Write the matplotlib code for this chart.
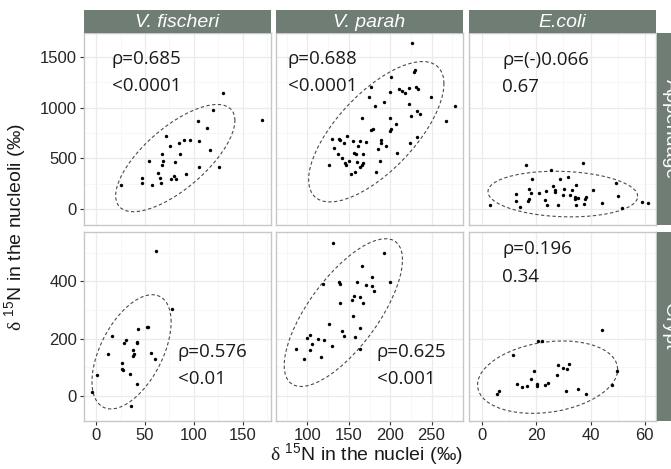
import numpy as np
import matplotlib
matplotlib.use("Agg")
import matplotlib.pyplot as plt

# facet labels
species = ["V. fischeri", "V. parah", "E.coli"]
sites = ["Appendage", "Crypt"]

# appendage
app_fis_x = [130.3, 170, 120, 104, 113, 71.4, 90.1, 95.9, 104.8, 85, 75.9, 116.3, 67.3, 86,
             53.7, 68.4, 80.3, 67, 104.8, 125.9, 63.3, 91.5, 46.9, 65, 80, 81.3, 76.5, 46.6,
             66, 57.1, 24.8]
app_fis_y = [1139, 881, 976, 864, 802, 717, 678, 681, 671, 652, 619, 583, 540, 540,
             478, 478, 468, 435, 419, 413, 360, 350, 311, 305, 327, 301, 301, 262,
             255, 236, 236]

app_par_x = [226.7, 229.9, 229.1, 201.4, 176.8, 211, 214.7, 217.9, 222.7, 231.1, 233.1, 199.8,
             174, 249.3, 192.9, 182.1, 222.3, 278.6, 232.4, 235.6, 224.7, 199.8, 165.6, 267.8,
             207.4, 179.3, 177.2, 200.6, 199.8, 232, 147.9, 138.6, 129.4, 139.8, 188.5, 189.3,
             155.5, 164, 171.2, 144.7, 223.9, 194.5, 132.2, 160.7, 185.7, 136.6, 156.7, 158.7,
             167.2, 207.8, 142.2, 150.3, 188.1, 145.1, 146.3, 159.5, 166, 167.6, 163.6, 126.6,
             182.9, 157.5, 152.7]
app_par_y = [1631, 1372, 1346, 1297, 1198, 1185, 1159, 1143, 1192, 1202, 1182, 1153,
             1103, 1100, 1054, 1018, 1035, 1015, 969, 936, 913, 897, 897, 868,
             842, 792, 783, 792, 773, 711, 720, 694, 691, 684, 684, 655,
             668, 671, 661, 652, 652, 619, 602, 625, 593, 544, 553, 540,
             544, 553, 508, 478, 472, 455, 435, 468, 435, 455, 416, 435,
             370, 370, 344]

app_eco_x = [37.2, 16, 25.5, 18.4, 28.8, 31.8, 49.5, 26.1, 34.5, 17.1, 23.5, 26.7, 30.2, 33,
             41, 12.3, 18.1, 20.9, 26.9, 29.7, 32.4, 34.4, 35.4, 38.2, 50.2, 17.4, 16.9, 23.3,
             12.6, 34.3, 38.1, 44.1, 13.8, 23.9, 28.1, 34.8, 37.5, 59, 61.4, 51.6, 3]
app_eco_y = [455, 432, 390, 298, 295, 318, 262, 226, 236, 203, 183, 193, 196, 193,
             187, 151, 160, 157, 170, 138, 138, 118, 108, 121, 134, 105, 79, 88,
             82, 105, 98, 62, 26, 39, 39, 46, 52, 72, 65, 13, 39]

# crypt
cry_fis_x = [60.9, 77.6, 53.1, 51.7, 43.2, 15.6, 30.3, 28.6, 41.5, 41.8, 37.8, 11.9, 56.5, 38.8,
             37.8, 59.9, 26.5, 26.5, 26.9, 34.4, 0.3, 41.8, -4.8, 35.7]
cry_fis_y = [505, 302, 242, 239, 232, 208, 196, 185, 189, 184, 160, 147, 149, 146,
             138, 127, 113, 95, 89, 76, 71, 40, 14, -37]

cry_par_x = [131.4, 192.9, 166, 178, 138.6, 139.8, 160, 119.3, 171.2, 178, 180.9, 199.4,
             155.9, 163.2, 153.5, 167.2, 139.4, 154.7, 125.7, 164, 141.4, 102.8, 144.3, 157.1,
             99.2, 112.9, 120.1, 105.6, 129.4, 86.7, 163.6, 103.6, 95.6, 116.1]
cry_par_y = [532, 498, 453, 415, 399, 392, 399, 389, 388, 384, 367, 396,
             347, 346, 336, 323, 323, 280, 249, 236, 225, 214, 208, 207,
             202, 199, 196, 182, 174, 164, 164, 159, 130, 137]

cry_eco_x = [44.1, 20.6, 22.1, 11.5, 31.9, 27.9, 29.9, 31.2, 19, 49.7, 27.5, 18, 20.2, 20.2,
             12.9, 14.5, 16.5, 23.2, 24.4, 47.8, 30.8, 35.4, 38.2, 6.2, 5.5]
cry_eco_y = [229, 193, 191, 143, 112, 106, 98, 92, 87, 87, 71, 58, 41, 33,
             41, 29, 34, 39, 44, 37, 16, 23, 5, 16, 7]

xs = [[app_fis_x, app_par_x, app_eco_x], [cry_fis_x, cry_par_x, cry_eco_x]]
ys = [[app_fis_y, app_par_y, app_eco_y], [cry_fis_y, cry_par_y, cry_eco_y]]

rho_text = [["ρ=0.685", "ρ=0.688", "ρ=(-)0.066"], ["ρ=0.576", "ρ=0.625", "ρ=0.196"]]
p_text = [["<0.0001", "<0.0001", "0.67"], ["<0.01", "<0.001", "0.34"]]

# scales (free per column / row)
col_xlim = [(-12.6, 179), (62, 288), (-4.9, 64.2)]
col_xticks = [[0, 50, 100, 150], [100, 150, 200, 250], [0, 20, 40, 60]]
col_xminor = [[25, 75, 125, 175], [75, 125, 175, 225, 275], [10, 30, 50]]
row_ylim = [(-154, 1732), (-88, 572)]
row_yticks = [[0, 500, 1000, 1500], [0, 200, 400]]
row_yminor = [[250, 750, 1250], [100, 300, 500]]

# where the labels sit in each panel (data units)
lab_x = [[16, 76, 7.4], [83.7, 183.7, 7.4]]
lab_y1 = [[1477, 1477, 1470], [154, 154, 513]]
lab_y2 = [[1215, 1215, 1202], [57, 57, 416]]


def cov_trob(x, y, nu=5, maxit=25, tol=0.01):
    # same as MASS::cov.trob, used by ggplot's stat_ellipse
    d = np.column_stack([x, y]).astype(float)
    n, p = d.shape
    loc = d.mean(axis=0)
    w = np.ones(n)
    for _ in range(maxit):
        w0 = w
        X = d - loc
        _, s, vt = np.linalg.svd(np.sqrt(w / w.sum())[:, None] * X, full_matrices=False)
        wX = X @ vt.T @ np.diag(1 / s)
        Q = (wX ** 2).sum(axis=1)
        w = (nu + p) / (nu + Q)
        loc = (w[:, None] * d).sum(axis=0) / w.sum()
        if np.all(np.abs(w - w0) < tol):
            break
    sX = np.sqrt(w)[:, None] * X
    return loc, sX.T @ sX / n


def ellipse(x, y, level=0.95, segments=51):
    loc, cov = cov_trob(x, y)
    dfd = len(x) - 1
    # sqrt(2 * qf(level, 2, dfd))
    radius = np.sqrt(dfd * ((1 - level) ** (-2 / dfd) - 1))
    R = np.linalg.cholesky(cov).T
    t = np.linspace(0, 2 * np.pi, segments + 1)
    circ = np.column_stack([np.cos(t), np.sin(t)])
    e = loc + radius * circ @ R
    return e[:, 0], e[:, 1]


plt.rcParams["font.family"] = ["Liberation Sans", "DejaVu Sans"]
plt.rcParams["mathtext.fontset"] = "custom"
plt.rcParams["mathtext.rm"] = "Liberation Serif"
plt.rcParams["mathtext.sf"] = "Liberation Sans"

W, H = 671, 469
fig = plt.figure(figsize=(W / 100, H / 100), dpi=100)

strip_col = "#6f7d74"
cols_px = [(84, 271), (276, 463), (469, 656)]
rows_px = [(33, 225), (232, 421)]


def box(x0, x1, y0, y1):
    return [x0 / W, 1 - y1 / H, (x1 - x0) / W, (y1 - y0) / H]


for r in range(2):
    for c in range(3):
        ax = fig.add_axes(box(*cols_px[c], *rows_px[r]))
        ax.set_xlim(col_xlim[c])
        ax.set_ylim(row_ylim[r])
        ax.set_xticks(col_xticks[c])
        ax.set_yticks(row_yticks[r])
        ax.set_xticks(col_xminor[c], minor=True)
        ax.set_yticks(row_yminor[r], minor=True)
        ax.grid(which="major", color="#ebebeb", lw=0.9)
        ax.grid(which="minor", color="#f4f4f4", lw=0.5)
        ax.set_axisbelow(True)
        for sp in ax.spines.values():
            sp.set_color("#c4c8c6")
            sp.set_linewidth(1.0)
        ax.tick_params(which="minor", length=0)
        ax.tick_params(which="major", length=3, width=0.8, color="#333333",
                       labelsize=12, labelcolor="#262626", pad=2)
        if c > 0:
            ax.tick_params(axis="y", length=0, labelleft=False)
        if r == 0:
            ax.tick_params(axis="x", length=0, labelbottom=False)

        x, y = xs[r][c], ys[r][c]
        ex, ey = ellipse(x, y)
        ax.plot(ex, ey, color="#4a4a4a", lw=0.8, ls=(0, (3, 2.2)))
        ax.scatter(x, y, s=6, color="black", linewidths=0, zorder=3)

        for yy, t in ((lab_y1[r][c], rho_text[r][c]), (lab_y2[r][c], p_text[r][c])):
            ax.text(lab_x[r][c], yy, t, ha="left", va="center", fontsize=13.5,
                    color="#1a1a1a", family=["Open Sans", "DejaVu Sans"])

# column strips
for c in range(3):
    sax = fig.add_axes(box(*cols_px[c], 10, 33))
    sax.set_facecolor(strip_col)
    sax.set_xticks([])
    sax.set_yticks([])
    for sp in sax.spines.values():
        sp.set_visible(False)
    sax.text(0.5, 0.45, species[c], transform=sax.transAxes, ha="center", va="center",
             color="white", fontsize=14, style="italic")

# row strips (run past the right edge, as in the original)
for r in range(2):
    sax = fig.add_axes(box(657, 683, *rows_px[r]))
    sax.set_facecolor(strip_col)
    sax.set_xticks([])
    sax.set_yticks([])
    for sp in sax.spines.values():
        sp.set_visible(False)
    sax.text(0.5, 0.5, sites[r], transform=sax.transAxes, ha="center", va="center",
             color="white", fontsize=14, rotation=-90)

fig.text(366 / W, 1 - 455 / H, r"$\mathrm{\delta}$ $^{\mathsf{15}}$N in the nuclei (‰)",
         ha="center", va="center", fontsize=14, color="#1a1a1a")
fig.text(16 / W, 1 - 227 / H, r"$\mathrm{\delta}$ $^{\mathsf{15}}$N in the nucleoli (‰)",
         ha="center", va="center", fontsize=14, color="#1a1a1a", rotation=90)

fig.savefig("out.png", dpi=100)
